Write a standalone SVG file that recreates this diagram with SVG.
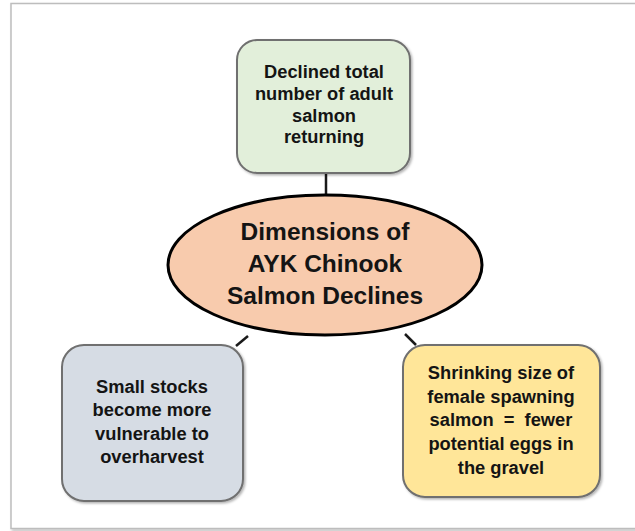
<svg xmlns="http://www.w3.org/2000/svg" width="635" height="531" viewBox="0 0 635 531">
<defs>
<style>
.box{stroke:#6f6f6f;stroke-width:2}
.t{font-family:"Liberation Sans",Arial,sans-serif;font-weight:bold;fill:#141414;text-anchor:middle}
.s{font-size:18.3px}
.b{font-size:24.5px}
.c{stroke:#1a1a1a;stroke-width:2.5;fill:none}
</style>
<filter id="sh" x="-10%" y="-10%" width="130%" height="130%">
<feDropShadow dx="1.5" dy="1.5" stdDeviation="1.2" flood-color="#000" flood-opacity="0.3"/>
</filter>
</defs>
<rect width="635" height="531" fill="#fff"/>
<rect x="11" y="3.5" width="640" height="525" fill="#fff" stroke="#bdbdbd" stroke-width="1.5" filter="url(#sh)"/>
<g id="connectors">
<line class="c" x1="326" y1="173" x2="326" y2="196"/>
<line class="c" x1="236" y1="346" x2="248" y2="336"/>
<line class="c" x1="405" y1="334" x2="416" y2="345"/>
</g>
<g id="top">
<rect class="box" x="237" y="40" width="173" height="133" rx="20" fill="#e2efda" filter="url(#sh)"/>
<text class="t s" x="324" y="78">Declined total</text>
<text class="t s" x="324" y="100">number of adult</text>
<text class="t s" x="324" y="122">salmon</text>
<text class="t s" x="324" y="143">returning</text>
</g>
<g id="center">
<ellipse cx="325" cy="265" rx="157" ry="70" fill="#f8cbad" stroke="#000" stroke-width="3"/>
<text class="t b" x="325" y="240">Dimensions of</text>
<text class="t b" x="325" y="272">AYK Chinook</text>
<text class="t b" x="325" y="304">Salmon Declines</text>
</g>
<g id="left">
<rect class="box" x="62" y="345" width="181" height="156" rx="22" fill="#d6dce4" filter="url(#sh)"/>
<text class="t s" x="152" y="393">Small stocks</text>
<text class="t s" x="152" y="416">become more</text>
<text class="t s" x="152" y="440">vulnerable to</text>
<text class="t s" x="152" y="463">overharvest</text>
</g>
<g id="right">
<rect class="box" x="403" y="345" width="197" height="152" rx="22" fill="#ffe699" filter="url(#sh)"/>
<text class="t s" x="501" y="379">Shrinking size of</text>
<text class="t s" x="501" y="403">female spawning</text>
<text class="t s" x="501" y="426" xml:space="preserve">salmon  =  fewer</text>
<text class="t s" x="501" y="450">potential eggs in</text>
<text class="t s" x="501" y="474">the gravel</text>
</g>
</svg>
